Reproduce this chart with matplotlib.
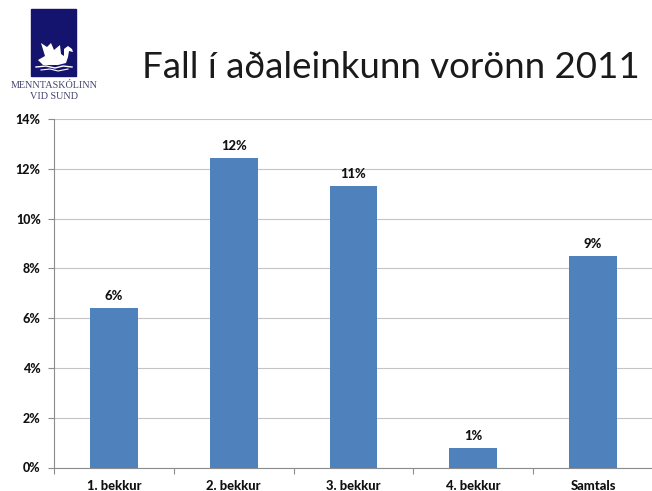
import matplotlib
matplotlib.use('Agg')
import matplotlib.pyplot as plt
from matplotlib.patches import Polygon, Rectangle

categories = ['1. bekkur', '2. bekkur', '3. bekkur', '4. bekkur', 'Samtals']
values = [6.4, 12.45, 11.3, 0.8, 8.5]
bar_labels = ['6%', '12%', '11%', '1%', '9%']
yticks = [0, 2, 4, 6, 8, 10, 12, 14]

W, H = 652, 491
plt.rcParams['font.family'] = ['Lato', 'DejaVu Sans']

fig = plt.figure(figsize=(W / 100, H / 100), dpi=100)

# plot area in pixels
left, right, top, bottom = 54, 653, 119, 467.5
ax = fig.add_axes([left / W, 1 - bottom / H, (right - left) / W, (bottom - top) / H])

ax.bar(range(5), values, width=0.4, color='#4f81bd', zorder=3)
ax.set_xlim(-0.5, 4.5)
ax.set_ylim(0, 14)
ax.set_yticks(yticks)
ax.set_yticklabels([f'{v}%' for v in yticks], fontsize=9, fontweight='black', color='#111111')
ax.set_xticks([i - 0.5 for i in range(6)])
ax.set_xticklabels([])
for i, c in enumerate(categories):
    ax.annotate(c, (i, 0), xytext=(0, -13), textcoords='offset points', ha='center', va='center',
                fontsize=9.4, fontweight='black', color='#111111')
for i, v in enumerate(values):
    ax.annotate(bar_labels[i], (i, v), xytext=(0, 8.5), textcoords='offset points', ha='center', va='center',
                fontsize=9.4, fontweight='black', color='#111111')

ax.grid(axis='y', color='#c4c4c4', lw=0.8, zorder=0)
ax.tick_params(axis='both', color='#8c8c8c', length=4, width=0.8)
ax.tick_params(axis='y', pad=5.5)
for s in ['top', 'right']:
    ax.spines[s].set_visible(False)
for s in ['left', 'bottom']:
    ax.spines[s].set_color('#8c8c8c')
    ax.spines[s].set_linewidth(0.8)

fig.text(391 / W, 1 - 68 / H, 'Fall í aðaleinkunn vorönn 2011', ha='center', va='center',
         fontsize=26.4, color='#1a1a1a')

# school logo, in pixel coordinates
logo = fig.add_axes([0, 0, 1, 1], facecolor='none')
logo.set_xlim(0, W)
logo.set_ylim(H, 0)
logo.axis('off')
logo.add_patch(Rectangle((31, 9), 45, 67, color='#14146e'))
swan = [(38, 60), (45, 56), (41, 43), (47, 47), (51, 43), (54, 50), (60, 45), (61, 54), (64, 56),
        (64, 49), (68, 46), (72, 49), (73, 52), (69, 51), (68, 57), (66, 63), (58, 65), (43, 65)]
logo.add_patch(Polygon(swan, color='white', lw=0))
logo.plot([36, 46, 55, 63, 72], [67, 66, 68, 66, 67], color='white', lw=1)
logo.plot([41, 50, 58, 68], [70, 69, 71, 69], color='white', lw=0.8)
logo.text(54, 85, 'MENNTASKÓLINN', ha='center', va='center', fontsize=7.3, family='Liberation Serif', color='#44446e')
logo.text(54, 96, 'VID SUND', ha='center', va='center', fontsize=7.3, family='Liberation Serif', color='#44446e')

fig.savefig('out.png', dpi=100)
